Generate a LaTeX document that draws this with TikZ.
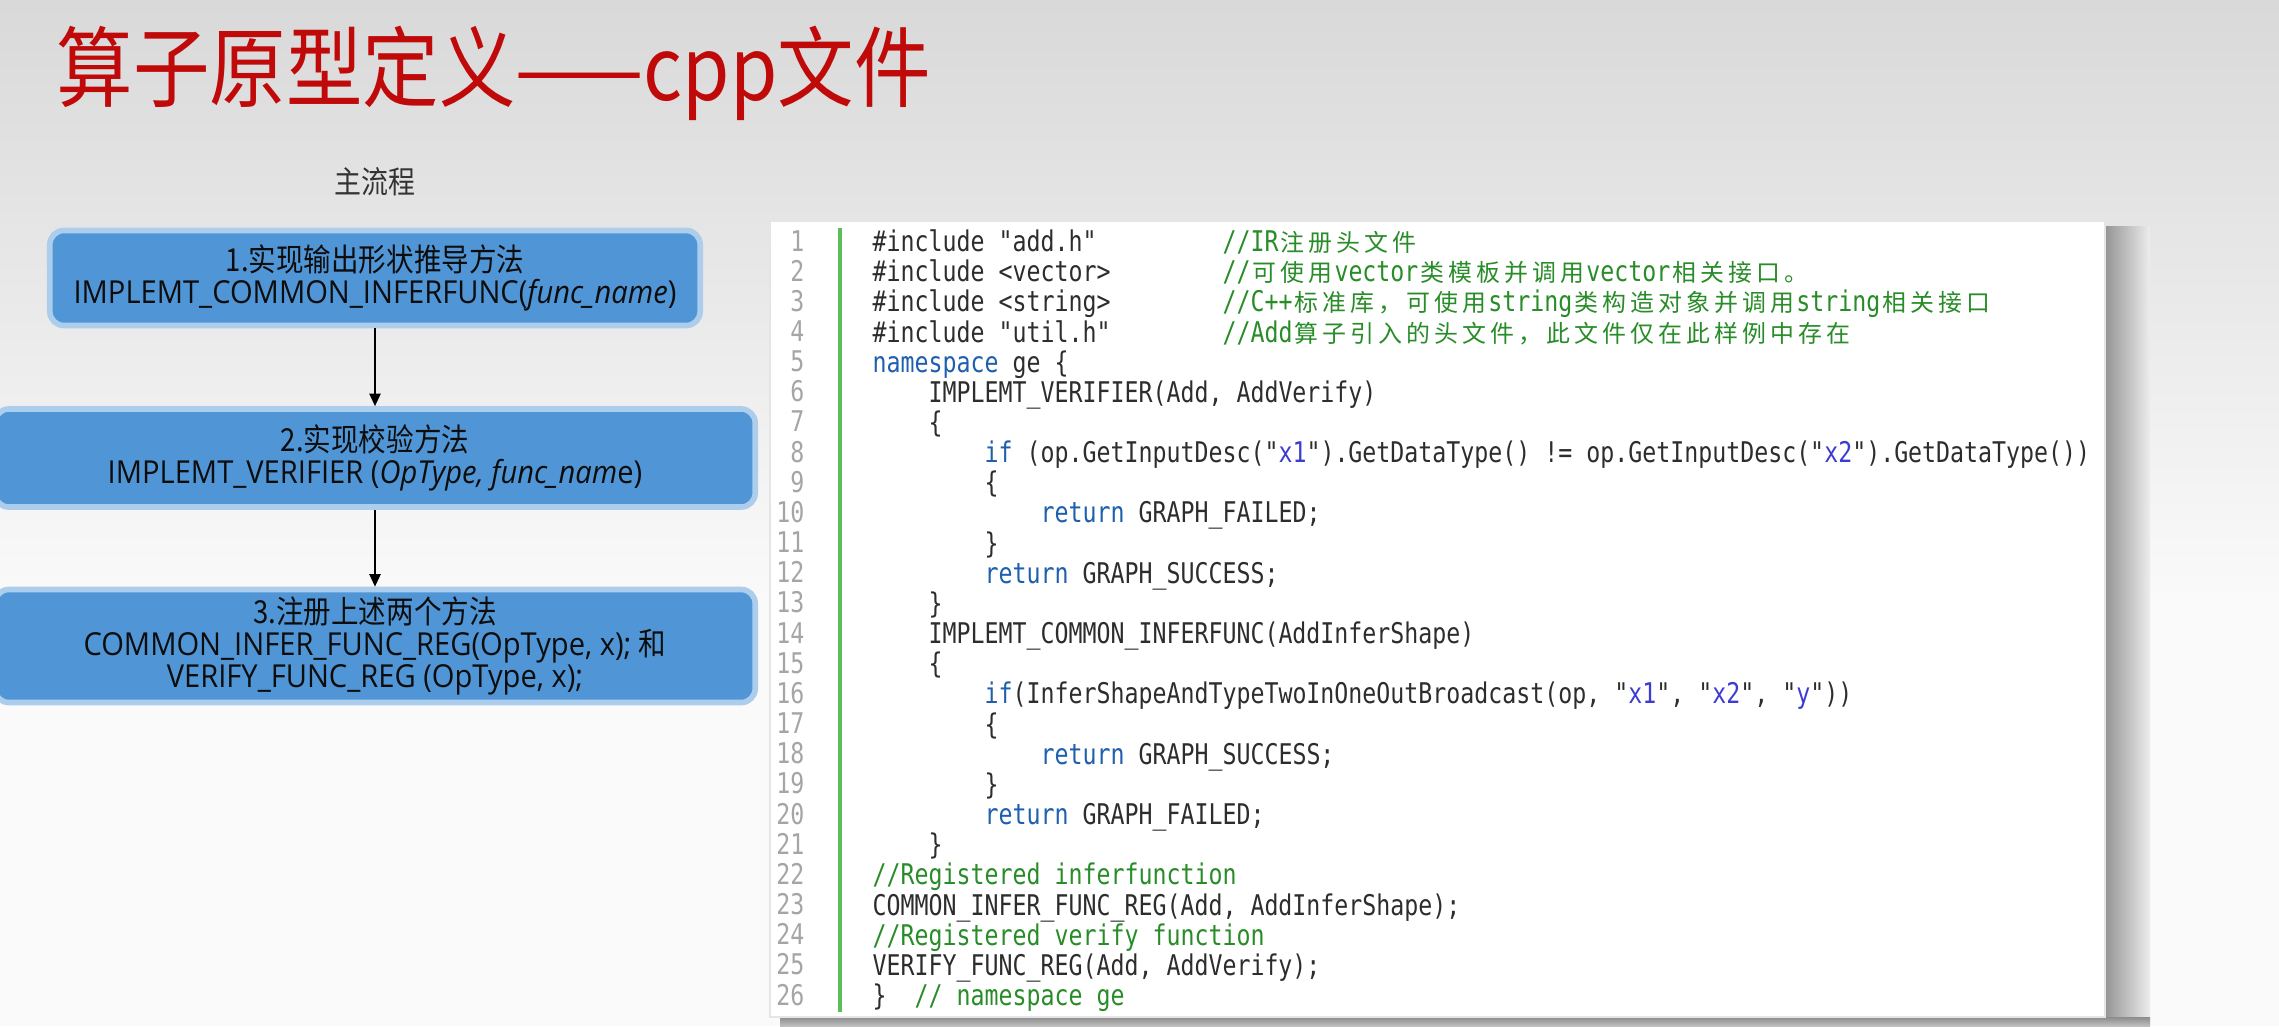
\documentclass[tikz,border=0pt]{standalone}
\usepackage{fontspec}
\usetikzlibrary{arrows.meta,positioning}

\newfontfamily\zhfont{Noto Sans CJK SC}[FakeStretch=0.87]
\newfontfamily\latfont{Open Sans}[FakeStretch=0.92]
\newfontfamily\codefamily{DejaVu Sans Mono}[FakeStretch=0.816]
\newfontfamily\codecjkfamily{Noto Sans CJK SC}

\definecolor{titlered}{RGB}{192,10,10}
\definecolor{boxblue}{RGB}{80,150,215}
\definecolor{boxhalo}{RGB}{172,205,236}
\definecolor{kwblue}{RGB}{30,95,175}
\definecolor{strblue}{RGB}{60,60,210}
\definecolor{cmtgreen}{RGB}{40,140,40}
\definecolor{codegray}{RGB}{45,45,45}
\definecolor{lnumgray}{RGB}{165,165,165}
\definecolor{bargreen}{RGB}{90,190,90}

\newlength\cw
\newcommand\codefont{\codefamily\fontsize{8.1pt}{9pt}\selectfont}
\newcommand\codecjk{\codecjkfamily\fontsize{6.8pt}{7pt}\selectfont}
\newcommand\boxtext{\latfont\fontsize{9pt}{9.2pt}\selectfont}
\newcommand\kw[1]{\textcolor{kwblue}{#1}}
\newcommand\cmt[1]{\textcolor{cmtgreen}{#1}}
\newcommand\qs[1]{"\textcolor{strblue}{#1}"}
\newcommand\codeind[1]{\hspace*{#1\cw}}
\newcommand\zhstop{}
\newcommand\zh[1]{\zhloop#1\zhstop}
\def\zhloop#1{\ifx#1\zhstop\else\makebox[2\cw]{\codecjk#1}\expandafter\zhloop\fi}
\AtBeginDocument{\settowidth{\cw}{\codefont 0}}

\begin{document}
\begin{tikzpicture}[x=0.01cm, y=-0.01cm,
  flowbox/.style={rectangle, rounded corners=4pt, fill=boxblue, draw=boxhalo,
    line width=1.6pt, align=center, text=black!95, font=\boxtext, inner sep=0pt},
  arr/.style={-{Triangle[length=3.6pt,width=3.2pt]}, line width=0.55pt, black},
  codetext/.style={anchor=base west, inner sep=0pt, text=codegray, font=\codefont},
  lnum/.style={anchor=base east, inner sep=0pt, text=lnumgray, font=\codefont}]
  \useasboundingbox (0,0) rectangle (2279,1026);

  % background
  \fill[black!2] (0,0) rectangle (2279,1026);
  \shade[top color=black!15, bottom color=black!2] (0,0) rectangle (2279,600);

  \node[anchor=base west, inner sep=0pt, text=titlered, font=\zhfont\fontsize{25pt}{28pt}\selectfont] (title) at (56,100) {算子原型定义——cpp文件};
  \node[inner sep=0pt, text=black!80, font=\zhfont\fontsize{8.8pt}{10pt}\selectfont] (mainflow) at (375,182) {主流程};

  % flow boxes
  \node[flowbox, minimum width=6.5cm, minimum height=0.95cm] (step1) at (375,278)
    {{\zhfont 1.实现输出形状推导方法}\\IMPLEMT\_COMMON\_INFERFUNC(\textit{func\_name})};
  \node[flowbox, minimum width=7.6cm, minimum height=0.98cm] (step2) at (375,458)
    {{\zhfont 2.实现校验方法}\\IMPLEMT\_VERIFIER (\textit{OpType, func\_nam}e)};
  \node[flowbox, minimum width=7.6cm, minimum height=1.13cm] (step3) at (375,646)
    {{\zhfont 3.注册上述两个方法}\\COMMON\_INFER\_FUNC\_REG(OpType, x); {\zhfont 和}\\VERIFY\_FUNC\_REG (OpType, x);};

  \draw[arr] (step1) -- (step2);
  \draw[arr] (step2) -- (step3);

  % code panel
  \shade[left color=black!42, right color=black!7] (2105,226) rectangle (2150,1026);
  \shade[top color=black!45, bottom color=black!25] (780,1017) rectangle (2150,1026);
  \fill[white, draw=black!10] (770,221) rectangle (2105,1017);
  \draw[bargreen, line width=1.2pt] (840,228) -- (840,1012);

  \foreach \i in {1,...,26}
    \node[lnum] (n\i) at (805, {251+30.16*(\i-1)}) {\i};

  \node[codetext] (l1) at (872,251) {\makebox[25\cw][l]{\#include "add.h"}\cmt{//IR\zh{注册头文件}}};
  \node[codetext] (l2) at (872,281) {\makebox[25\cw][l]{\#include <vector>}\cmt{//\zh{可使用}vector\zh{类模板并调用}vector\zh{相关接口。}}};
  \node[codetext] (l3) at (872,311) {\makebox[25\cw][l]{\#include <string>}\cmt{//C++\zh{标准库，可使用}string\zh{类构造对象并调用}string\zh{相关接口}}};
  \node[codetext] (l4) at (872,342) {\makebox[25\cw][l]{\#include "util.h"}\cmt{//Add\zh{算子引入的头文件，此文件仅在此样例中存在}}};
  \node[codetext] (l5) at (872,372) {\kw{namespace} ge \{};
  \node[codetext] (l6) at (872,402) {\codeind{4}IMPLEMT\_VERIFIER(Add, AddVerify)};
  \node[codetext] (l7) at (872,432) {\codeind{4}\{};
  \node[codetext] (l8) at (872,462) {\codeind{8}\kw{if} (op.GetInputDesc(\qs{x1}).GetDataType() != op.GetInputDesc(\qs{x2}).GetDataType())};
  \node[codetext] (l9) at (872,492) {\codeind{8}\{};
  \node[codetext] (l10) at (872,522) {\codeind{12}\kw{return} GRAPH\_FAILED;};
  \node[codetext] (l11) at (872,553) {\codeind{8}\}};
  \node[codetext] (l12) at (872,583) {\codeind{8}\kw{return} GRAPH\_SUCCESS;};
  \node[codetext] (l13) at (872,613) {\codeind{4}\}};
  \node[codetext] (l14) at (872,643) {\codeind{4}IMPLEMT\_COMMON\_INFERFUNC(AddInferShape)};
  \node[codetext] (l15) at (872,673) {\codeind{4}\{};
  \node[codetext] (l16) at (872,703) {\codeind{8}\kw{if}(InferShapeAndTypeTwoInOneOutBroadcast(op, \qs{x1}, \qs{x2}, \qs{y}))};
  \node[codetext] (l17) at (872,734) {\codeind{8}\{};
  \node[codetext] (l18) at (872,764) {\codeind{12}\kw{return} GRAPH\_SUCCESS;};
  \node[codetext] (l19) at (872,794) {\codeind{8}\}};
  \node[codetext] (l20) at (872,824) {\codeind{8}\kw{return} GRAPH\_FAILED;};
  \node[codetext] (l21) at (872,854) {\codeind{4}\}};
  \node[codetext] (l22) at (872,884) {\cmt{//Registered inferfunction}};
  \node[codetext] (l23) at (872,915) {COMMON\_INFER\_FUNC\_REG(Add, AddInferShape);};
  \node[codetext] (l24) at (872,945) {\cmt{//Registered verify function}};
  \node[codetext] (l25) at (872,975) {VERIFY\_FUNC\_REG(Add, AddVerify);};
  \node[codetext] (l26) at (872,1005) {\}\codeind{2}\cmt{// namespace ge}};
\end{tikzpicture}
\end{document}
